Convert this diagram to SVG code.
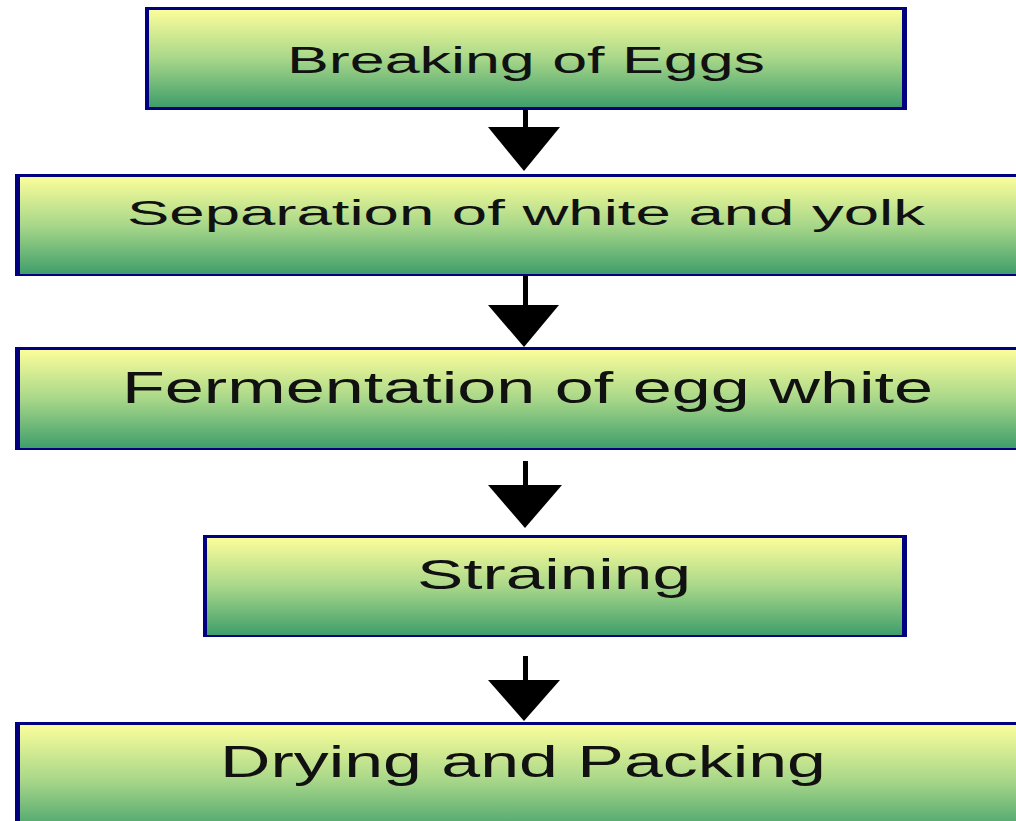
<svg xmlns="http://www.w3.org/2000/svg" width="1016" height="821" viewBox="0 0 1016 821">
<defs>
<linearGradient id="g" x1="0" y1="0" x2="0" y2="1">
<stop offset="0" stop-color="#fbfd9b"/>
<stop offset="0.5" stop-color="#a8d789"/>
<stop offset="1" stop-color="#3f9e6b"/>
</linearGradient>
</defs>
<style>
.frame{fill:#000080}
.fill{fill:url(#g)}
.lbl{font-family:"Liberation Sans",Arial,sans-serif;fill:#111;}
.ln{stroke:#000;stroke-width:5;fill:none}
.hd{fill:#000}
</style>
<rect width="1016" height="821" fill="#fff"/>
<g id="node1">
<rect class="frame" x="145" y="7" width="762" height="103"/>
<rect class="fill" x="149" y="10" width="753" height="97"/>
<text class="lbl" x="287" y="73" font-size="36" textLength="478" lengthAdjust="spacingAndGlyphs">Breaking of Eggs</text>
</g>
<g id="node2">
<rect class="frame" x="15" y="174" width="1010" height="102"/>
<rect class="fill" x="20" y="177" width="1005" height="97"/>
<text class="lbl" x="127" y="225" font-size="35" textLength="798" lengthAdjust="spacingAndGlyphs">Separation of white and yolk</text>
</g>
<g id="node3">
<rect class="frame" x="15" y="347" width="1010" height="103"/>
<rect class="fill" x="20" y="350" width="1005" height="98"/>
<text class="lbl" x="122" y="403" font-size="44" textLength="811" lengthAdjust="spacingAndGlyphs">Fermentation of egg white</text>
</g>
<g id="node4">
<rect class="frame" x="203" y="535" width="704" height="102"/>
<rect class="fill" x="207" y="538" width="695" height="97"/>
<text class="lbl" x="417" y="589" font-size="43" textLength="274" lengthAdjust="spacingAndGlyphs">Straining</text>
</g>
<g id="node5">
<rect class="frame" x="15" y="722" width="1010" height="110"/>
<rect class="fill" x="20" y="725" width="1005" height="110"/>
<text class="lbl" x="220" y="777" font-size="44" textLength="606" lengthAdjust="spacingAndGlyphs">Drying and Packing</text>
</g>
<g id="connectors">
<line class="ln" x1="525.5" y1="110" x2="525.5" y2="128"/>
<polygon class="hd" points="488,127 560,127 524,171"/>
<line class="ln" x1="525.5" y1="276" x2="525.5" y2="306"/>
<polygon class="hd" points="488,305 559,305 524,347"/>
<line class="ln" x1="525.5" y1="461" x2="525.5" y2="486"/>
<polygon class="hd" points="488,485 562,485 525,528"/>
<line class="ln" x1="525.5" y1="656" x2="525.5" y2="681"/>
<polygon class="hd" points="488,680 560,680 524,721"/>
</g>
</svg>
